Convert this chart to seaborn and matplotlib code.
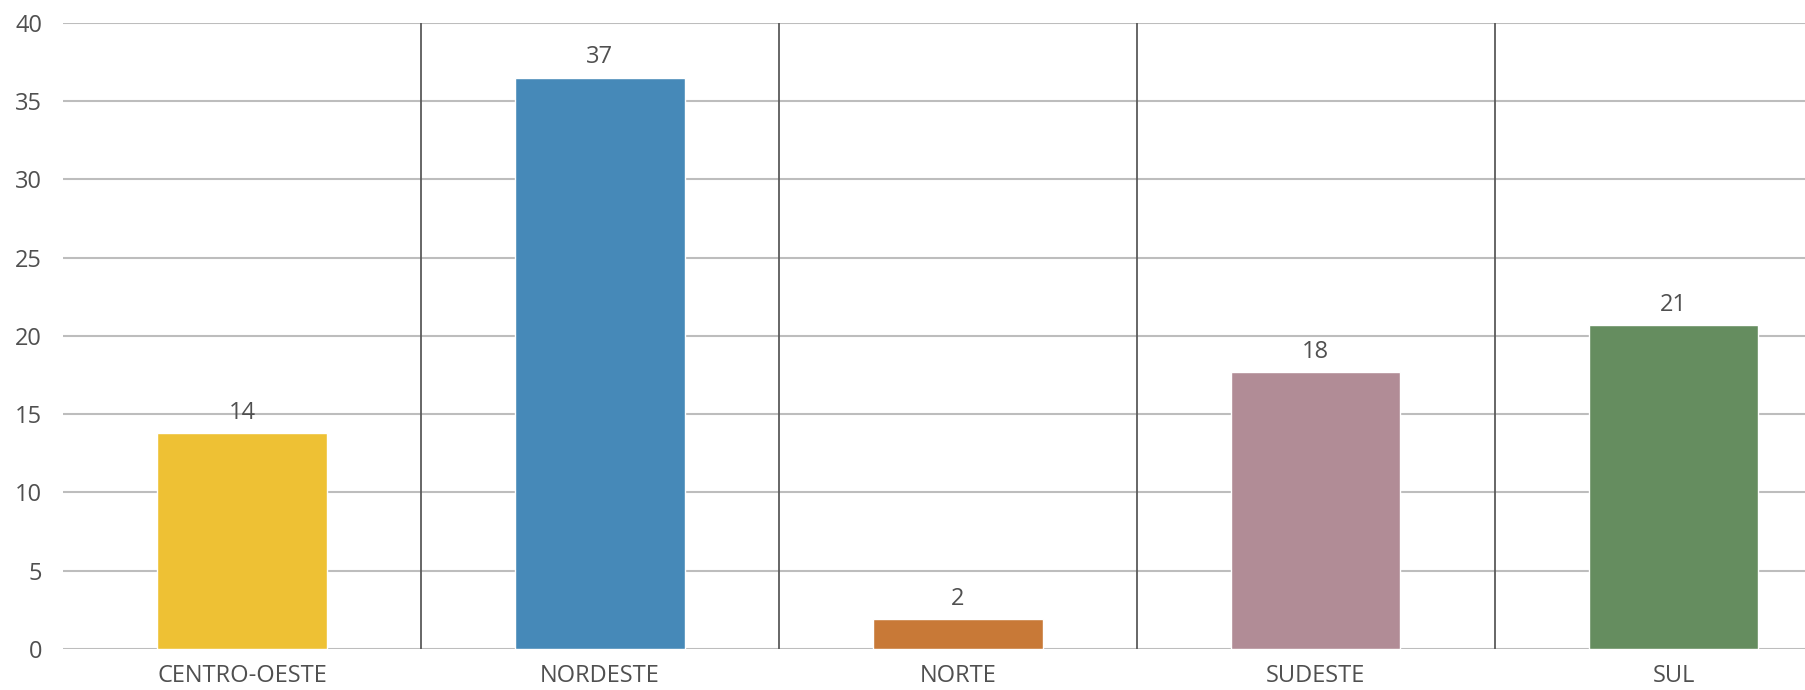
import matplotlib
matplotlib.use("Agg")
import matplotlib.pyplot as plt
import seaborn as sns
import pandas as pd

# data
regioes = ["CENTRO-OESTE", "NORDESTE", "NORTE", "SUDESTE", "SUL"]
valores = [13.8, 36.5, 1.9, 17.7, 20.7]
cores = ["#EEC134", "#4689B8", "#C87937", "#B18C96", "#658D5F"]
y_ticks = [0, 5, 10, 15, 20, 25, 30, 35, 40]

text_color = "#505050"

sns.set_theme(style="white")
plt.rcParams["font.family"] = ["Open Sans", "DejaVu Sans"]

df = pd.DataFrame({"regiao": regioes, "valor": valores})

fig = plt.figure(figsize=(18.06, 6.9), dpi=100)
ax = fig.add_axes([0.0349, 0.0594, 0.9651, 0.9077])

sns.barplot(data=df, x="regiao", y="valor", hue="regiao", palette=cores,
            width=0.474, legend=False, saturation=1, ax=ax, zorder=3)

# value labels above bars
for i, v in enumerate(valores):
    ax.annotate(str(int(v + 0.5)), (i, v), xytext=(0, 6), textcoords="offset points",
                ha="center", va="bottom", fontsize=17, color=text_color)

# horizontal grid and vertical category separators
ax.set_yticks(y_ticks)
ax.set_ylim(0, 40)
ax.set_xlim(-0.5, 4.37)
ax.yaxis.grid(True, color="#BDBDBD", linewidth=1.5, zorder=0)
ax.set_axisbelow(True)
ax.vlines([0.5, 1.5, 2.5, 3.5], 0, 40, color="#5A5A5A", linewidth=1.3, zorder=1)

for s in ax.spines.values():
    s.set_visible(False)

ax.tick_params(axis="y", length=0, pad=15, labelsize=17, labelcolor=text_color)
ax.tick_params(axis="x", length=0, pad=11, labelsize=17, labelcolor=text_color)
ax.set_xlabel("")
ax.set_ylabel("")

fig.savefig("out.png", dpi=100, facecolor="white")
